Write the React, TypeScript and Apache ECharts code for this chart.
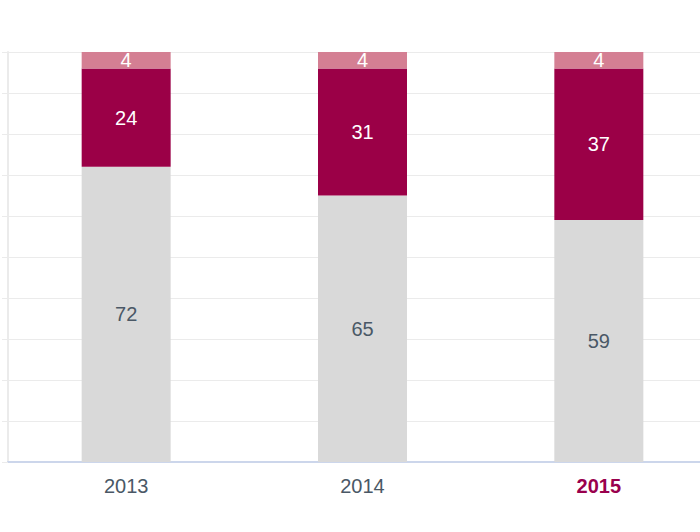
import React, { useEffect, useRef } from "react";
import * as echarts from "echarts";

const categories = ["2013", "2014", "2015"];
const grayValues = [72, 65, 59];
const redValues = [24, 31, 37];
const pinkValues = [4, 4, 4];

export default function App() {
  const ref = useRef<HTMLDivElement>(null);
  useEffect(() => {
    const chart = echarts.init(ref.current!, null, { renderer: "svg" });
    const labelBase = {
      show: true,
      position: "inside",
      fontSize: 20,
      fontFamily: "Liberation Sans, Arial, sans-serif",
    };
    chart.setOption({
      animation: false,
      grid: { left: 8, top: 52, right: 0, bottom: 70 },
      xAxis: {
        type: "category",
        data: categories,
        axisLine: { lineStyle: { color: "#ccd6eb", width: 2 } },
        axisTick: { show: false },
        axisLabel: {
          margin: 14,
          fontSize: 20,
          fontFamily: "Liberation Sans, Arial, sans-serif",
          color: "#4a5866",
          formatter: (v: string) => (v === "2015" ? "{b|" + v + "}" : v),
          rich: {
            b: {
              fontSize: 20,
              fontWeight: "bold",
              color: "#99004d",
              fontFamily: "Liberation Sans, Arial, sans-serif",
            },
          },
        },
      },
      yAxis: {
        type: "value",
        min: 0,
        max: 100,
        interval: 10,
        axisLine: { show: true, lineStyle: { color: "#ebebeb", width: 2 } },
        axisTick: { show: true, length: 6, lineStyle: { color: "#ebebeb" } },
        axisLabel: { show: false },
        splitLine: { lineStyle: { color: "#ebebeb" } },
      },
      series: [
        {
          type: "bar",
          stack: "s",
          data: grayValues,
          barWidth: 89,
          itemStyle: { color: "#d9d9d9" },
          label: { ...labelBase, color: "#4a5866" },
        },
        {
          type: "bar",
          stack: "s",
          data: redValues,
          barWidth: 89,
          itemStyle: { color: "#9b0047" },
          label: { ...labelBase, color: "#ffffff" },
        },
        {
          type: "bar",
          stack: "s",
          data: pinkValues,
          barWidth: 89,
          itemStyle: { color: "#d47f93" },
          label: { ...labelBase, color: "#ffffff" },
        },
      ],
    });
    return () => chart.dispose();
  }, []);
  return (
    <div style={{ width: 700, height: 532, position: "absolute", left: 0, top: 0, overflow: "hidden" }}>
      <div ref={ref} style={{ width: 717, height: 532 }} />
    </div>
  );
}
